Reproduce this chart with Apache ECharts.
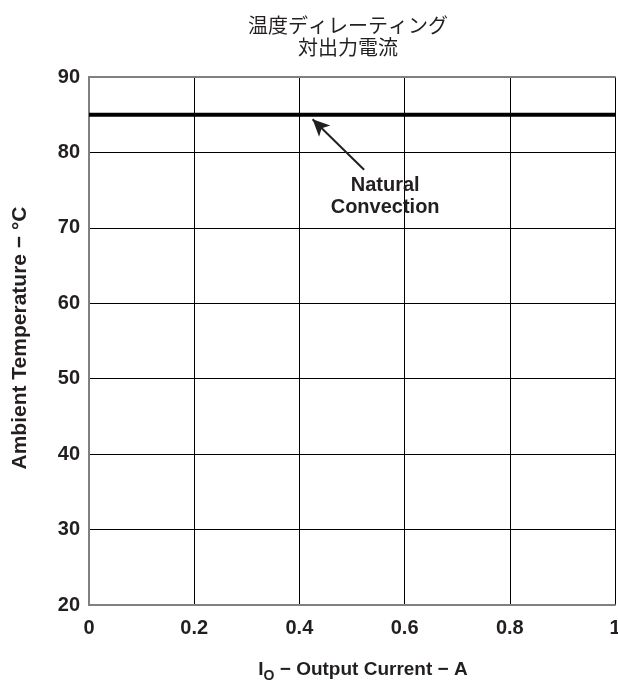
<!DOCTYPE html>
<html>
<head>
<meta charset="utf-8">
<script src="https://cdn.jsdelivr.net/npm/echarts@6/dist/echarts.min.js"></script>
<style>
html,body{margin:0;padding:0;background:#fff;}
#main{width:618px;height:684px;}
</style>
</head>
<body>
<div id="main"></div>
<script>
// ---- data ----
var titleLines = ['温度ディレーティング', '対出力電流'];
var xTicks = [0, 0.2, 0.4, 0.6, 0.8, 1];
var yTicks = [20, 30, 40, 50, 60, 70, 80, 90];
var currentA = [0, 1];
var ambientC = [85, 85];
var arrowFrom = [0.523, 77.7];
var arrowTo = [0.425, 84.4];
var noteLabel = ['Natural', 'Convection'];
var noteAt = [0.563, 74.1];

var chart = echarts.init(document.getElementById('main'));
var ink = '#231f20';
var frame = '#808080';
var font = 'Liberation Sans, Arial, sans-serif';

var option = {
  backgroundColor: '#fff',
  animation: false,
  title: {
    text: titleLines.join('\n'),
    left: 343, top: 9, textAlign: 'center',
    textStyle: { fontFamily: 'Noto Sans CJK JP', fontSize: 20, fontWeight: 'normal', color: ink, lineHeight: 22 }
  },
  grid: { left: 89, right: 3, top: 77, bottom: 79, containLabel: false, outerBoundsMode: 'none' },
  xAxis: [{
    type: 'value', min: xTicks[0], max: xTicks[xTicks.length - 1], interval: 0.2,
    axisLine: { show: true, lineStyle: { color: frame, width: 2 } },
    axisTick: { show: false },
    splitLine: { show: true, lineStyle: { color: '#000', width: 1 } },
    axisLabel: { margin: 13, fontFamily: font, fontSize: 20, fontWeight: 'bold', color: ink },
    name: '{i|I}{s|O}{n| − Output Current − A}',
    nameLocation: 'middle', nameGap: 52,
    nameTextStyle: {
      padding: [0, 0, 0, 22],
      rich: {
        i: { fontFamily: font, fontSize: 19, fontWeight: 'bold', color: ink },
        s: { fontFamily: font, fontSize: 14, fontWeight: 'bold', color: ink, verticalAlign: 'bottom', padding: [12, 0, 0, 0] },
        n: { fontFamily: font, fontSize: 19, fontWeight: 'bold', color: ink }
      }
    }
  }, {
    type: 'value', position: 'top', min: 0, max: 1, interval: 0.2,
    axisLine: { show: true, lineStyle: { color: frame, width: 2 } },
    axisTick: { show: false }, axisLabel: { show: false }, splitLine: { show: false }
  }],
  yAxis: [{
    type: 'value', min: yTicks[0], max: yTicks[yTicks.length - 1], interval: 10,
    axisLine: { show: true, lineStyle: { color: frame, width: 2 } },
    axisTick: { show: false },
    splitLine: { show: true, lineStyle: { color: '#000', width: 1 } },
    axisLabel: { margin: 9, fontFamily: font, fontSize: 20, fontWeight: 'bold', color: ink },
    name: 'Ambient Temperature − °C',
    nameLocation: 'middle', nameGap: 58, nameRotate: 90,
    nameTextStyle: { fontFamily: font, fontSize: 21, fontWeight: 'bold', color: ink, padding: [0, 0, 0, 6] }
  }, {
    type: 'value', position: 'right', min: 20, max: 90, interval: 10,
    axisLine: { show: true, lineStyle: { color: frame, width: 2 } },
    axisTick: { show: false }, axisLabel: { show: false }, splitLine: { show: false }
  }],
  series: [{
    type: 'line',
    data: currentA.map(function (x, i) { return [x, ambientC[i]]; }),
    showSymbol: false, symbol: 'none',
    lineStyle: { color: '#000', width: 4 },
    markLine: {
      silent: true, symbol: ['none', 'arrow'], symbolSize: [12, 17],
      lineStyle: { color: ink, width: 2, type: 'solid' },
      label: { show: false },
      data: [[{ coord: arrowFrom }, { coord: arrowTo }]]
    }
  }]
};
chart.setOption(option);

var p = chart.convertToPixel({ xAxisIndex: 0, yAxisIndex: 0 }, noteAt);
chart.setOption({
  graphic: [{
    type: 'text', x: p[0], y: p[1],
    style: {
      text: noteLabel.join('\n'), align: 'center', verticalAlign: 'middle',
      font: 'bold 20px ' + font, fill: ink, lineHeight: 22
    }
  }]
});
</script>
</body>
</html>
